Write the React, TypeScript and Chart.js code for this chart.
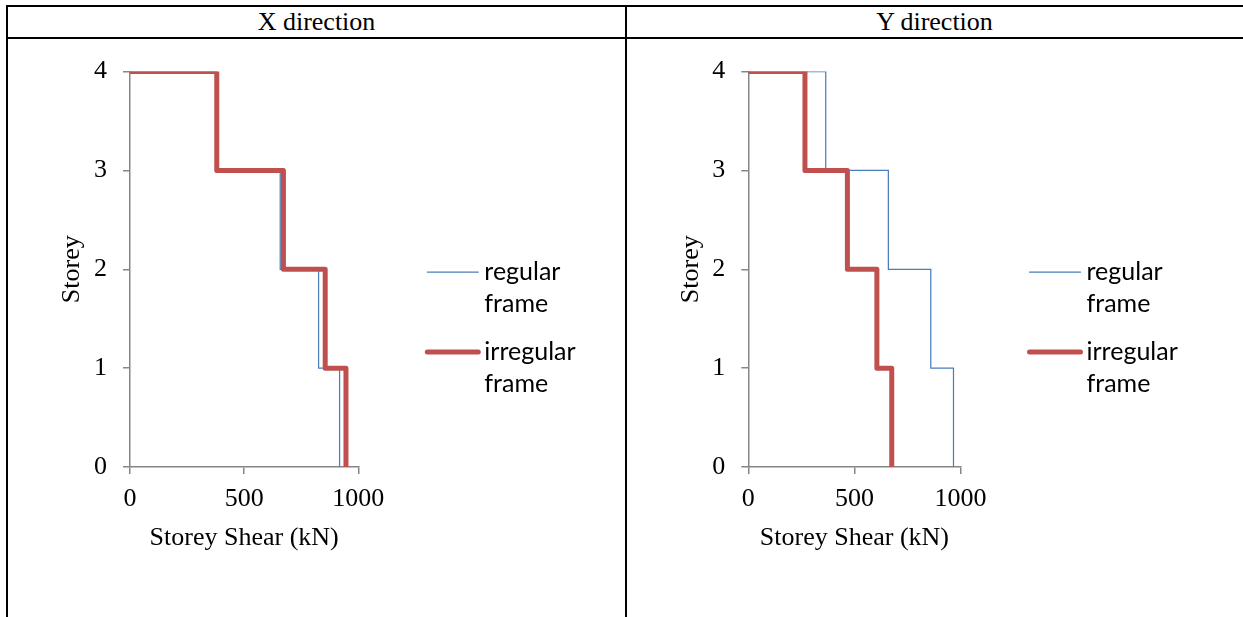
import React, { useEffect, useRef } from "react";
import { Chart, registerables } from "chart.js";

Chart.register(...registerables);

// ---- data ----
const storeys = [4, 3, 2, 1, 0];
const xRegularShear = [378, 658, 826, 918];
const xIrregularShear = [380, 672, 855, 946];
const yRegularShear = [365, 660, 860, 967];
const yIrregularShear = [267, 467, 606, 676];
const seriesNames = [
  ["regular", "frame"],
  ["irregular", "frame"],
];
const shearTicks = [0, 500, 1000];
const storeyTicks = [0, 1, 2, 3, 4];
const panelTitles = ["X direction", "Y direction"];
const xAxisTitle = "Storey Shear (kN)";
const yAxisTitle = "Storey";

const SERIF = "'Liberation Serif', 'Times New Roman', serif";
const SANS = "Lato, 'Open Sans', sans-serif";
const BLUE = "#4A7EBB";
const RED = "#C0504D";
const AXIS = "#868686";

function stepPoints(shears: number[]) {
  const pts: { x: number; y: number }[] = [{ x: 0, y: storeys[0] }];
  shears.forEach((v, i) => {
    pts.push({ x: v, y: storeys[i] });
    pts.push({ x: v, y: storeys[i + 1] });
  });
  return pts;
}

const legendPlugin = {
  id: "stackedLegend",
  afterDraw(chart: any) {
    const { ctx, chartArea } = chart;
    const x0 = chartArea.right + 69;
    const x1 = chartArea.right + 120;
    const tx = chartArea.right + 126;
    const rows = [chartArea.top + 200.5, chartArea.top + 280.5];
    const styles = [
      { color: BLUE, width: 1.25 },
      { color: RED, width: 5 },
    ];
    ctx.save();
    seriesNames.forEach((lines, i) => {
      const y = rows[i];
      ctx.beginPath();
      ctx.strokeStyle = styles[i].color;
      ctx.lineWidth = styles[i].width;
      ctx.lineCap = "round";
      ctx.moveTo(x0, y);
      ctx.lineTo(x1, y);
      ctx.stroke();
      ctx.fillStyle = "#000";
      ctx.font = `25px ${SANS}`;
      ctx.textBaseline = "middle";
      ctx.textAlign = "left";
      lines.forEach((t, j) => ctx.fillText(t, tx, y + j * 32));
    });
    ctx.restore();
  },
};

type PanelProps = {
  regular: number[];
  irregular: number[];
  width: number;
  height: number;
  yScaleWidth: number;
  rightPad: number;
};

function Panel({ regular, irregular, width, height, yScaleWidth, rightPad }: PanelProps) {
  const ref = useRef<HTMLCanvasElement | null>(null);
  useEffect(() => {
    if (!ref.current) return;
    const tickFont = { family: SERIF, size: 26 };
    const chart = new Chart(ref.current, {
      type: "scatter",
      data: {
        datasets: [
          {
            label: seriesNames[0].join(" "),
            data: stepPoints(regular),
            showLine: true,
            borderColor: BLUE,
            borderWidth: 1.25,
            pointRadius: 0,
            order: 1,
          },
          {
            label: seriesNames[1].join(" "),
            data: stepPoints(irregular),
            showLine: true,
            borderColor: RED,
            borderWidth: 5,
            borderJoinStyle: "round",
            borderCapStyle: "round",
            pointRadius: 0,
            order: 0,
          },
        ],
      },
      options: {
        animation: false,
        responsive: false,
        layout: { padding: { left: 0, top: 32.5, right: rightPad, bottom: 0 } },
        plugins: { legend: { display: false }, tooltip: { enabled: false } },
        scales: {
          x: {
            type: "linear",
            min: 0,
            max: 1000,
            afterBuildTicks: (s: any) => {
              s.ticks = shearTicks.map((v) => ({ value: v }));
            },
            afterFit: (s: any) => {
              s.height = height - 428;
            },
            grid: { drawOnChartArea: false, drawTicks: true, tickLength: 7, color: AXIS, lineWidth: 1.5 },
            border: { display: true, color: AXIS, width: 1.5 },
            ticks: {
              font: tickFont,
              color: "#000",
              padding: 10,
              maxRotation: 0,
              callback: (v: any) => String(v),
            },
            title: {
              display: true,
              text: xAxisTitle,
              font: tickFont,
              color: "#000",
              padding: { top: 0, bottom: 63 },
            },
          },
          y: {
            type: "linear",
            min: 0,
            max: 4,
            afterBuildTicks: (s: any) => {
              s.ticks = storeyTicks.map((v) => ({ value: v }));
            },
            afterFit: (s: any) => {
              s.width = yScaleWidth;
            },
            grid: { drawOnChartArea: false, drawTicks: true, tickLength: 7, color: AXIS, lineWidth: 1.5 },
            border: { display: true, color: AXIS, width: 1.5 },
            ticks: { font: tickFont, color: "#000", padding: 16, callback: (v: any) => String(v) },
            title: {
              display: true,
              text: yAxisTitle,
              font: tickFont,
              color: "#000",
              padding: { top: 48.4, bottom: 0 },
            },
          },
        },
      },
      plugins: [legendPlugin],
    } as any);
    return () => chart.destroy();
  }, [regular, irregular, width, height, yScaleWidth, rightPad]);
  return <canvas ref={ref} width={width} height={height} style={{ display: "block", width, height }} />;
}

const bar = (left: number, top: number, w: number, h: number) => (
  <div style={{ position: "absolute", left, top, width: w, height: h, background: "#000" }} />
);

export default function App() {
  return (
    <div
      style={{
        position: "absolute",
        left: 0,
        top: 0,
        width: 1243,
        height: 617,
        overflow: "hidden",
        background: "#fff",
      }}
    >
      {bar(6, 5, 1237, 2)}
      {bar(6, 37, 1237, 2)}
      {bar(6, 5, 2, 612)}
      {bar(625, 5, 2, 612)}
      <div
        style={{
          position: "absolute",
          left: 8,
          top: 7,
          width: 617,
          height: 30,
          lineHeight: "30px",
          textAlign: "center",
          font: `26px ${SERIF}`,
          color: "#000",
        }}
      >
        {panelTitles[0]}
      </div>
      <div
        style={{
          position: "absolute",
          left: 627,
          top: 7,
          width: 615,
          height: 30,
          lineHeight: "30px",
          textAlign: "center",
          font: `26px ${SERIF}`,
          color: "#000",
        }}
      >
        {panelTitles[1]}
      </div>
      <div style={{ position: "absolute", left: 8, top: 39 }}>
        <Panel regular={xRegularShear} irregular={xIrregularShear} width={617} height={578} yScaleWidth={122} rightPad={266.7} />
      </div>
      <div style={{ position: "absolute", left: 627, top: 39 }}>
        <Panel regular={yRegularShear} irregular={yIrregularShear} width={616} height={578} yScaleWidth={121.3} rightPad={282.5} />
      </div>
    </div>
  );
}
